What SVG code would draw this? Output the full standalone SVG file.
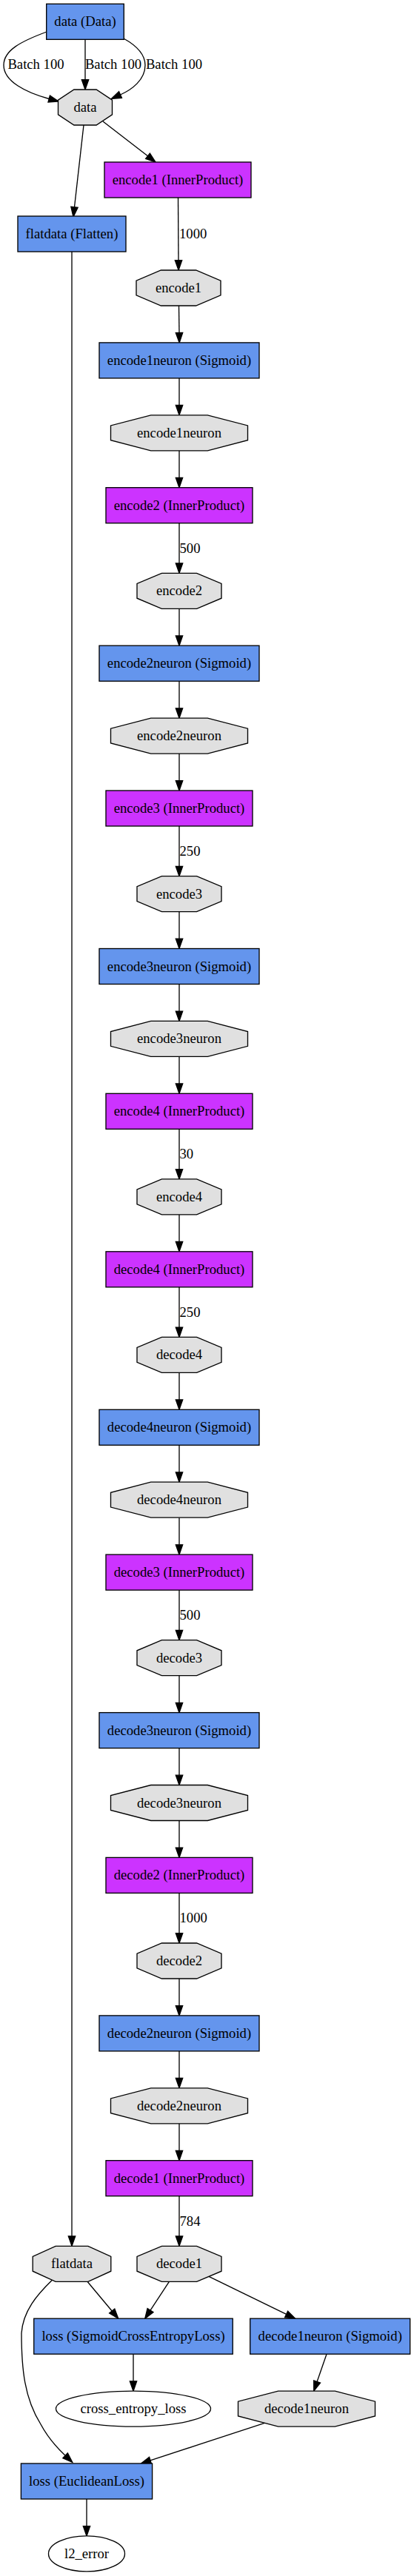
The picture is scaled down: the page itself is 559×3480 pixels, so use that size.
<svg xmlns="http://www.w3.org/2000/svg" width="559" height="3480" viewBox="0 0 559 3480">
<style>
.lay rect,.ip rect,.blob polygon,.out ellipse{stroke:#000;stroke-width:1.33}
.lay rect{fill:#6495ED}
.ip rect{fill:#CC33FF}
.blob polygon{fill:#E0E0E0}
.out ellipse{fill:#FFFFFF}
text{font-family:"Liberation Serif","Times New Roman",serif;font-size:18.67px;fill:#000;stroke:none;text-anchor:middle}
text.lbl{text-anchor:start}
.edges path{fill:none;stroke:#000;stroke-width:1.33;marker-end:url(#ah)}
</style>
<defs>
<marker id="ah" markerUnits="userSpaceOnUse" markerWidth="16" markerHeight="12" viewBox="0 -6 16 12" refX="0" refY="0" orient="auto" overflow="visible">
<path d="M0,-4.67 L13.33,0 L0,4.67 z" fill="#000" stroke="#000" stroke-width="1.33"/>
</marker>
</defs>
<rect width="559" height="3480" fill="#fff"/>
<g class="edges" id="connectors">
<path d="M63,43 C28,56 5,68 5,88 C5,110 35,125 66.2,133.5"/>
<path d="M115,53.3 V107.7"/>
<path d="M167,52 C185,62 196,74 196,88 C196,108 178,121 162.5,128"/>
<path d="M139,164 L199.5,210.8"/>
<path d="M113,169 L100.5,279.7"/>
<path d="M240.5,267 L241,351.7"/>
<path d="M97,340 V3021"/>
<path d="M241.5,413 L242,449.6"/>
<path d="M242,510.9 V547.5"/>
<path d="M242,608.8 V645.4"/>
<path d="M242,706.7 V761"/>
<path d="M242,822.3 V858.9"/>
<path d="M242,920.2 V956.8"/>
<path d="M242,1018.1 V1054.7"/>
<path d="M242,1116 V1170.3"/>
<path d="M242,1231.6 V1268.2"/>
<path d="M242,1329.5 V1366.1"/>
<path d="M242,1427.4 V1464"/>
<path d="M242,1525.3 V1579.6"/>
<path d="M242,1640.9 V1677.5"/>
<path d="M242,1738.8 V1793.1"/>
<path d="M242,1854.4 V1891"/>
<path d="M242,1952.3 V1988.9"/>
<path d="M242,2050.2 V2086.8"/>
<path d="M242,2148.1 V2202.4"/>
<path d="M242,2263.7 V2300.3"/>
<path d="M242,2361.6 V2398.2"/>
<path d="M242,2459.5 V2496.1"/>
<path d="M242,2557.4 V2611.7"/>
<path d="M242,2673 V2709.6"/>
<path d="M242,2770.9 V2807.5"/>
<path d="M242,2868.8 V2905.4"/>
<path d="M242,2966.7 V3021"/>
<path d="M118,3082.3 L151.2,3122"/>
<path d="M228.4,3082.3 L203,3121.1"/>
<path d="M282,3075.4 L386.6,3126.4"/>
<path d="M180,3180.2 V3216.8"/>
<path d="M441,3180.2 L428.1,3217.5"/>
<path d="M357.3,3273.3 L203,3323.9"/>
<path d="M70.4,3080.2 C50,3100 31,3122 29,3152 C29,3200 33,3240 55,3275 C63,3290 72,3302 88.1,3317.3"/>
<path d="M117,3376 V3412.6"/>
<text x="48.5" y="93.2">Batch 100</text>
<text x="153" y="93.2">Batch 100</text>
<text x="235" y="93.2">Batch 100</text>
<text class="lbl" x="242" y="322">1000</text>
<text class="lbl" x="242.5" y="746.5">500</text>
<text class="lbl" x="242.5" y="1155.8">250</text>
<text class="lbl" x="242.5" y="1565.1">30</text>
<text class="lbl" x="242.5" y="1778.6">250</text>
<text class="lbl" x="242.5" y="2187.9">500</text>
<text class="lbl" x="242.5" y="2597.2">1000</text>
<text class="lbl" x="242.5" y="3006.5">784</text>
</g>
<g id="data_layer" class="lay" transform="translate(115,29.3)"><rect x="-52.3" y="-24" width="104.6" height="48"/><text y="6">data (Data)</text></g>
<g id="data_blob" class="blob" transform="translate(115,145)"><polygon points="-15.1,-24 15.1,-24 36.5,-9.9 36.5,9.9 15.1,24 -15.1,24 -36.5,9.9 -36.5,-9.9"/><text y="6">data</text></g>
<g id="encode1_layer" class="ip" transform="translate(240,243)"><rect x="-99" y="-24" width="198" height="48"/><text y="6">encode1 (InnerProduct)</text></g>
<g id="flatdata_layer" class="lay" transform="translate(97,316)"><rect x="-73" y="-24" width="146" height="48"/><text y="6">flatdata (Flatten)</text></g>
<g id="encode1_blob" class="blob" transform="translate(241,389)"><polygon points="-23.6,-24 23.6,-24 57,-9.9 57,9.9 23.6,24 -23.6,24 -57,9.9 -57,-9.9"/><text y="6">encode1</text></g>
<g id="encode1neuron_layer" class="lay" transform="translate(242,486.9)"><rect x="-108" y="-24" width="216" height="48"/><text y="6">encode1neuron (Sigmoid)</text></g>
<g id="encode1neuron_blob" class="blob" transform="translate(242,584.8)"><polygon points="-38.3,-24 38.3,-24 92.5,-9.9 92.5,9.9 38.3,24 -38.3,24 -92.5,9.9 -92.5,-9.9"/><text y="6">encode1neuron</text></g>
<g id="encode2_layer" class="ip" transform="translate(242,682.7)"><rect x="-99" y="-24" width="198" height="48"/><text y="6">encode2 (InnerProduct)</text></g>
<g id="encode2_blob" class="blob" transform="translate(242,798.3)"><polygon points="-23.6,-24 23.6,-24 57,-9.9 57,9.9 23.6,24 -23.6,24 -57,9.9 -57,-9.9"/><text y="6">encode2</text></g>
<g id="encode2neuron_layer" class="lay" transform="translate(242,896.2)"><rect x="-108" y="-24" width="216" height="48"/><text y="6">encode2neuron (Sigmoid)</text></g>
<g id="encode2neuron_blob" class="blob" transform="translate(242,994.1)"><polygon points="-38.3,-24 38.3,-24 92.5,-9.9 92.5,9.9 38.3,24 -38.3,24 -92.5,9.9 -92.5,-9.9"/><text y="6">encode2neuron</text></g>
<g id="encode3_layer" class="ip" transform="translate(242,1092)"><rect x="-99" y="-24" width="198" height="48"/><text y="6">encode3 (InnerProduct)</text></g>
<g id="encode3_blob" class="blob" transform="translate(242,1207.6)"><polygon points="-23.6,-24 23.6,-24 57,-9.9 57,9.9 23.6,24 -23.6,24 -57,9.9 -57,-9.9"/><text y="6">encode3</text></g>
<g id="encode3neuron_layer" class="lay" transform="translate(242,1305.5)"><rect x="-108" y="-24" width="216" height="48"/><text y="6">encode3neuron (Sigmoid)</text></g>
<g id="encode3neuron_blob" class="blob" transform="translate(242,1403.4)"><polygon points="-38.3,-24 38.3,-24 92.5,-9.9 92.5,9.9 38.3,24 -38.3,24 -92.5,9.9 -92.5,-9.9"/><text y="6">encode3neuron</text></g>
<g id="encode4_layer" class="ip" transform="translate(242,1501.3)"><rect x="-99" y="-24" width="198" height="48"/><text y="6">encode4 (InnerProduct)</text></g>
<g id="encode4_blob" class="blob" transform="translate(242,1616.9)"><polygon points="-23.6,-24 23.6,-24 57,-9.9 57,9.9 23.6,24 -23.6,24 -57,9.9 -57,-9.9"/><text y="6">encode4</text></g>
<g id="decode4_layer" class="ip" transform="translate(242,1714.8)"><rect x="-99" y="-24" width="198" height="48"/><text y="6">decode4 (InnerProduct)</text></g>
<g id="decode4_blob" class="blob" transform="translate(242,1830.4)"><polygon points="-23.6,-24 23.6,-24 57,-9.9 57,9.9 23.6,24 -23.6,24 -57,9.9 -57,-9.9"/><text y="6">decode4</text></g>
<g id="decode4neuron_layer" class="lay" transform="translate(242,1928.3)"><rect x="-108" y="-24" width="216" height="48"/><text y="6">decode4neuron (Sigmoid)</text></g>
<g id="decode4neuron_blob" class="blob" transform="translate(242,2026.2)"><polygon points="-38.3,-24 38.3,-24 92.5,-9.9 92.5,9.9 38.3,24 -38.3,24 -92.5,9.9 -92.5,-9.9"/><text y="6">decode4neuron</text></g>
<g id="decode3_layer" class="ip" transform="translate(242,2124.1)"><rect x="-99" y="-24" width="198" height="48"/><text y="6">decode3 (InnerProduct)</text></g>
<g id="decode3_blob" class="blob" transform="translate(242,2239.7)"><polygon points="-23.6,-24 23.6,-24 57,-9.9 57,9.9 23.6,24 -23.6,24 -57,9.9 -57,-9.9"/><text y="6">decode3</text></g>
<g id="decode3neuron_layer" class="lay" transform="translate(242,2337.6)"><rect x="-108" y="-24" width="216" height="48"/><text y="6">decode3neuron (Sigmoid)</text></g>
<g id="decode3neuron_blob" class="blob" transform="translate(242,2435.5)"><polygon points="-38.3,-24 38.3,-24 92.5,-9.9 92.5,9.9 38.3,24 -38.3,24 -92.5,9.9 -92.5,-9.9"/><text y="6">decode3neuron</text></g>
<g id="decode2_layer" class="ip" transform="translate(242,2533.4)"><rect x="-99" y="-24" width="198" height="48"/><text y="6">decode2 (InnerProduct)</text></g>
<g id="decode2_blob" class="blob" transform="translate(242,2649)"><polygon points="-23.6,-24 23.6,-24 57,-9.9 57,9.9 23.6,24 -23.6,24 -57,9.9 -57,-9.9"/><text y="6">decode2</text></g>
<g id="decode2neuron_layer" class="lay" transform="translate(242,2746.9)"><rect x="-108" y="-24" width="216" height="48"/><text y="6">decode2neuron (Sigmoid)</text></g>
<g id="decode2neuron_blob" class="blob" transform="translate(242,2844.8)"><polygon points="-38.3,-24 38.3,-24 92.5,-9.9 92.5,9.9 38.3,24 -38.3,24 -92.5,9.9 -92.5,-9.9"/><text y="6">decode2neuron</text></g>
<g id="decode1_layer" class="ip" transform="translate(242,2942.7)"><rect x="-99" y="-24" width="198" height="48"/><text y="6">decode1 (InnerProduct)</text></g>
<g id="decode1_blob" class="blob" transform="translate(242,3058.3)"><polygon points="-23.6,-24 23.6,-24 57,-9.9 57,9.9 23.6,24 -23.6,24 -57,9.9 -57,-9.9"/><text y="6">decode1</text></g>
<g id="flatdata_blob" class="blob" transform="translate(97,3058.3)"><polygon points="-21.9,-24 21.9,-24 52.8,-9.9 52.8,9.9 21.9,24 -21.9,24 -52.8,9.9 -52.8,-9.9"/><text y="6">flatdata</text></g>
<g id="loss_sce_layer" class="lay" transform="translate(180,3156.2)"><rect x="-134.25" y="-24" width="268.5" height="48"/><text y="6">loss (SigmoidCrossEntropyLoss)</text></g>
<g id="decode1neuron_layer" class="lay" transform="translate(445.7,3156.2)"><rect x="-108" y="-24" width="216" height="48"/><text y="6">decode1neuron (Sigmoid)</text></g>
<g id="cross_entropy_loss_blob" class="out" transform="translate(180,3254.1)"><ellipse cx="0" cy="0" rx="104.5" ry="24"/><text y="6">cross_entropy_loss</text></g>
<g id="decode1neuron_blob" class="blob" transform="translate(414,3254.1)"><polygon points="-38.3,-24 38.3,-24 92.5,-9.9 92.5,9.9 38.3,24 -38.3,24 -92.5,9.9 -92.5,-9.9"/><text y="6">decode1neuron</text></g>
<g id="loss_euclid_layer" class="lay" transform="translate(117,3352)"><rect x="-88.6" y="-24" width="177.2" height="48"/><text y="6">loss (EuclideanLoss)</text></g>
<g id="l2_error_blob" class="out" transform="translate(117,3449.9)"><ellipse cx="0" cy="0" rx="51.5" ry="24"/><text y="6">l2_error</text></g>
</svg>
